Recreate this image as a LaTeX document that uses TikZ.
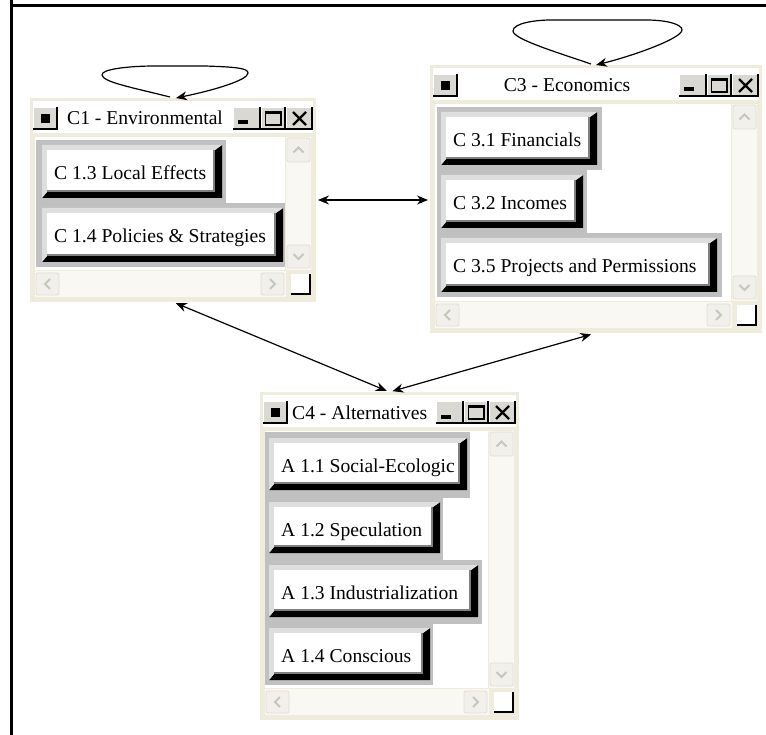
\documentclass[tikz,border=0pt]{standalone}
\usepackage{fontspec}
\setmainfont{Liberation Serif}
\usetikzlibrary{arrows.meta,fit,calc}

\definecolor{winbeige}{RGB}{239,236,222}
\definecolor{grp}{RGB}{192,192,192}
\definecolor{btnhi}{RGB}{222,222,222}
\definecolor{btnmid}{RGB}{128,128,128}
\definecolor{tbtnc}{RGB}{218,216,210}
\definecolor{sbtnc}{RGB}{241,240,234}
\definecolor{sbord}{RGB}{224,222,212}
\definecolor{chev}{RGB}{198,198,192}
\definecolor{track}{RGB}{249,248,243}

\tikzset{
  lbl/.style={font=\fontsize{19.6}{22}\selectfont, inner sep=0pt, anchor=base west},
  conn/.style={line width=1.2pt, {Stealth[length=11pt,width=9pt]}-{Stealth[length=11pt,width=9pt]}},
  selfloop/.style={line width=1.2pt, -{Stealth[length=11pt,width=9pt]}},
}

% title-bar button
\newcommand\tbtn[4]{%
  \fill[tbtnc] ({#1},{#2}) rectangle ({#3},{#4});
  \draw[white, line width=1.2pt] ({#1+0.6},{#4}) -- ({#1+0.6},{#2+0.6}) -- ({#3},{#2+0.6});
  \draw[black, line width=1.6pt] ({#1},{#4-0.8}) -- ({#3-0.8},{#4-0.8}) -- ({#3-0.8},{#2});
}
% scroll button
\newcommand\sbtn[5]{%
  \pgfmathsetmacro\scx{(#1+#3)/2}%
  \pgfmathsetmacro\scy{(#2+#4)/2}%
  \draw[sbord, fill=sbtnc, rounded corners=2pt, line width=0.8pt] ({#1},{#2}) rectangle ({#3},{#4});
  \draw[chev, line width=2pt, shift={(\scx,\scy)}] #5;
}
% 3D push button with label node
\newcommand\pbtn[6]{%
  \fill[black] (#2,#5) -- (#4,#5) -- (#4,#3) -- ({#4-7},{#3+5}) -- ({#4-7},{#5-6}) -- ({#2+5},{#5-6}) -- cycle;
  \fill[btnhi] (#2,#5) -- (#2,#3) -- (#4,#3) -- ({#4-7},{#3+5}) -- ({#2+5},{#3+5}) -- ({#2+5},{#5-6}) -- cycle;
  \fill[btnmid] ({#2+5},{#3+5}) rectangle ({#4-7},{#5-6});
  \fill[white] ({#2+5},{#3+5}) rectangle ({#4-9},{#5-8});
  \node[lbl] (#1) at ({#2+12},{#3+34.5}) {#6};
}
% window
\newcommand\pwin[8]{%
  \node[fit={(#2,#3) (#4,#5)}, inner sep=0pt, outer sep=0pt, fill=winbeige] (#1) {};
  \fill[white] ({#2+3},{#3+3}) rectangle ({#4-3},{#3+35});
  \tbtn{#2+3}{#3+9}{#2+28}{#3+32}
  \fill[black] ({#2+11},{#3+16}) rectangle ({#2+20},{#3+25});
  \tbtn{#4-83}{#3+9}{#4-55}{#3+32}
  \fill[black] ({#4-78},{#3+22.5}) rectangle ({#4-68},{#3+26.5});
  \tbtn{#4-55}{#3+9}{#4-30}{#3+32}
  \draw[black, line width=1.4pt] ({#4-50.5},{#3+13.7}) rectangle ({#4-35},{#3+27});
  \draw[black, line width=2pt] ({#4-50.5},{#3+14.7}) -- ({#4-35},{#3+14.7});
  \tbtn{#4-30}{#3+9}{#4-3}{#3+32}
  \draw[black, line width=2.3pt] ({#4-23},{#3+14}) -- ({#4-10},{#3+27}) ({#4-23},{#3+27}) -- ({#4-10},{#3+14});
  \node[lbl, anchor=#8] (#1t) at (#7,{#3+27}) {#6};
  \fill[white] ({#2+5},{#3+39}) rectangle ({#4-31},{#5-32});
  \fill[track] ({#4-30},{#3+39}) rectangle ({#4-5},{#5-32});
  \fill[track] ({#2+5},{#5-31}) rectangle ({#4-30},{#5-5});
  \sbtn{#4-29}{#3+40}{#4-6}{#3+64}{(-5,2.5) -- (0,-2.5) -- (5,2.5);}
  \sbtn{#4-29}{#5-57}{#4-6}{#5-34}{(-5,-2.5) -- (0,2.5) -- (5,-2.5);}
  \sbtn{#2+6}{#5-29}{#2+29}{#5-7}{(2.5,-5) -- (-2.5,0) -- (2.5,5);}
  \sbtn{#4-55}{#5-29}{#4-32}{#5-7}{(-2.5,-5) -- (2.5,0) -- (-2.5,5);}
  \fill[white] ({#4-25},{#5-28}) rectangle ({#4-6},{#5-8});
  \draw[black, line width=2pt] ({#4-25},{#5-8}) -- ({#4-6},{#5-8}) -- ({#4-6},{#5-28});
}

\begin{document}
\begin{tikzpicture}[x=1pt,y=-1pt]
\useasboundingbox (0,0) rectangle (766,735);
\fill[white] (0,0) rectangle (766,735);
\draw[line width=3.2pt] (11.6,0) -- (11.6,735);
\draw[line width=3.2pt] (10,5.6) -- (766,5.6);

% ---------- C1 ----------
\pwin{c1}{30}{98}{316}{302}{C1 - Environmental}{67}{base west}
\fill[grp] (36,140) rectangle (226,203);
\fill[grp] (36,203) rectangle (285,267);
\pbtn{b13}{42}{145}{222}{198}{C 1.3 Local Effects}
\pbtn{b14}{42}{208}{283}{262}{C 1.4 Policies \& Strategies}

% ---------- C3 ----------
\pwin{c3}{430}{65}{762}{333}{C3 - Economics}{567}{base}
\fill[grp] (437,107) rectangle (602,170);
\fill[grp] (437,170) rectangle (587,233);
\fill[grp] (437,233) rectangle (722,297);
\pbtn{b31}{441}{112}{597}{165}{C 3.1 Financials}
\pbtn{b32}{441}{175}{583}{228}{C 3.2 Incomes}
\pbtn{b35}{441}{238}{717}{292}{C 3.5 Projects and Permissions}

% ---------- C4 ----------
\pwin{c4}{260}{392}{519}{720}{C4 - Alternatives}{292}{base west}
\fill[grp] (265,432) rectangle (470,498);
\fill[grp] (265,498) rectangle (443,560);
\fill[grp] (265,560) rectangle (482,624);
\fill[grp] (265,624) rectangle (433,685);
\pbtn{a11}{269}{438}{467}{490}{A 1.1 Social-Ecologic}
\pbtn{a12}{269}{502}{440}{553}{A 1.2 Speculation}
\pbtn{a13}{269}{565}{478}{617}{A 1.3 Industrialization}
\pbtn{a14}{269}{628}{430}{680}{A 1.4 Conscious}

% ---------- connectors ----------
\draw[conn, shorten <=2pt, shorten >=2pt] (c1.east) -- (c1.east -| c3.west);
\draw[conn, shorten <=3pt, shorten >=3pt] (c1.south) -- (c4.north);
\draw[conn, shorten <=5pt, shorten >=3pt] (c3.south) -- (c4.north);

% ---------- self loops ----------
\begin{scope}[shift={(c1.north)}]
\draw[selfloop] (-3,-1) .. controls (-43,-11) and (-70,-16) .. (-71,-23)
  .. controls (-72,-29) and (-43,-32) .. (-18,-32) -- (32,-32)
  .. controls (62,-31) and (75,-30) .. (75,-25)
  .. controls (75,-18) and (42,-8) .. (3,0);
\end{scope}
\begin{scope}[shift={(c3.north)}]
\draw[selfloop] (-5,-1) .. controls (-40,-13) and (-83,-26) .. (-83,-34)
  .. controls (-83,-42) and (-60,-45) .. (-45,-45) -- (50,-45)
  .. controls (70,-45) and (86,-41) .. (86,-35)
  .. controls (86,-27) and (40,-10) .. (0,0);
\end{scope}
\end{tikzpicture}
\end{document}
